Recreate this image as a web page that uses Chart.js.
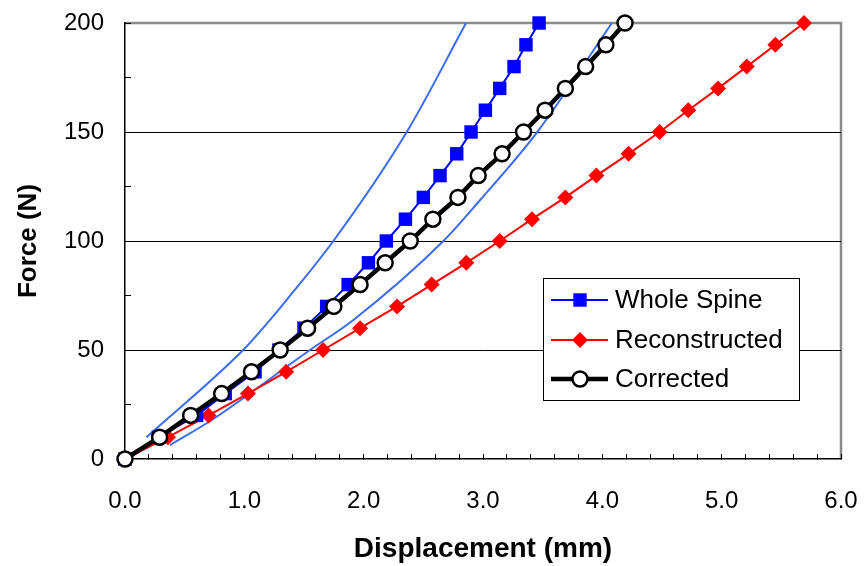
<!DOCTYPE html>
<html>
<head>
<meta charset="utf-8">
<script src="https://cdn.jsdelivr.net/npm/chart.js@4"></script>
<style>
  html, body { margin: 0; padding: 0; background: #fff; }
  #wrap { width: 864px; height: 566px; }
</style>
</head>
<body>
<div id="wrap"><canvas id="forceChart" width="864" height="566"></canvas></div>
<script>
// force levels (N) shared by the three measured series
const forceN = [0, 10, 20, 30, 40, 50, 60, 70, 80, 90, 100, 110, 120, 130, 140, 150, 160, 170, 180, 190, 200];

// displacement (mm)
const wholeSpineMm = [0, 0.28, 0.60, 0.84, 1.09, 1.29, 1.50, 1.69, 1.87, 2.04, 2.19, 2.35, 2.50, 2.64, 2.78, 2.90, 3.02, 3.14, 3.26, 3.36, 3.47];
const reconstructedMm = [0, 0.36, 0.70, 1.03, 1.35, 1.66, 1.97, 2.28, 2.57, 2.86, 3.14, 3.41, 3.69, 3.95, 4.22, 4.48, 4.72, 4.97, 5.21, 5.45, 5.69];
const correctedMm = [0, 0.29, 0.55, 0.81, 1.06, 1.30, 1.53, 1.75, 1.97, 2.18, 2.39, 2.58, 2.79, 2.96, 3.16, 3.34, 3.52, 3.69, 3.86, 4.03, 4.19];

// the two thin bounding curves (no markers)
const upperCurveMm = [0.18, 0.99, 1.215, 1.355, 1.746, 2.361, 2.858];
const upperCurveN = [10, 50, 63.8, 73, 100, 150, 200];
const lowerCurveMm = [0.377, 0.727, 1.55, 1.914, 2.668, 2.976, 3.451, 4.08];
const lowerCurveN = [6.4, 17.9, 50, 63.8, 100, 118.8, 149.7, 200];

const xTicksMajor = ['0.0', '1.0', '2.0', '3.0', '4.0', '5.0', '6.0'];
const yTicksMajor = ['0', '50', '100', '150', '200'];

const FONT = '"Liberation Sans", Arial, sans-serif';

function pairs(xs, ys) {
  return xs.map((x, i) => ({x: x, y: ys[i]}));
}

// keep the plot box where the original has it
function fixBox(s, size) {
  if (s.isHorizontal()) s.height = size; else s.width = size;
  s.paddingTop = 0;
  s.paddingBottom = 0;
  s.paddingLeft = 0;
  s.paddingRight = 0;
}

// grey frame on top and right of the plot area
const frame = {
  id: 'frame',
  beforeDraw(chart) {
    const {ctx, chartArea: a} = chart;
    ctx.save();
    ctx.strokeStyle = '#8a8a8a';
    ctx.lineWidth = 2.5;
    ctx.beginPath();
    ctx.moveTo(a.left, a.top);
    ctx.lineTo(a.right, a.top);
    ctx.lineTo(a.right, a.bottom);
    ctx.stroke();
    ctx.restore();
  }
};

function drawMarker(ctx, style, x, y, ds) {
  ctx.save();
  ctx.fillStyle = ds.pointBackgroundColor;
  ctx.strokeStyle = ds.pointBorderColor;
  ctx.lineWidth = ds.pointBorderWidth;
  ctx.beginPath();
  const r = ds.pointRadius;
  if (style === 'rect') {
    const s = Math.SQRT1_2 * r;
    ctx.rect(x - s, y - s, 2 * s, 2 * s);
  } else if (style === 'rectRot') {
    ctx.moveTo(x, y - r);
    ctx.lineTo(x + r, y);
    ctx.lineTo(x, y + r);
    ctx.lineTo(x - r, y);
    ctx.closePath();
  } else {
    ctx.arc(x, y, r, 0, Math.PI * 2);
  }
  ctx.fill();
  if (ds.pointBorderWidth > 0) ctx.stroke();
  ctx.restore();
}

// legend box inside the plot, like the original
const insideLegend = {
  id: 'insideLegend',
  afterDraw(chart) {
    const {ctx, chartArea: a} = chart;
    const left = a.left + 418, top = a.top + 255, w = 256, h = 122;
    ctx.save();
    ctx.fillStyle = '#fff';
    ctx.fillRect(left, top, w, h);
    ctx.strokeStyle = '#000';
    ctx.lineWidth = 1;
    ctx.strokeRect(left + 0.5, top + 0.5, w, h);
    const rows = [22, 62, 101];
    chart.data.datasets.slice(0, 3).forEach((ds, i) => {
      const y = top + rows[i];
      ctx.strokeStyle = ds.borderColor;
      ctx.lineWidth = ds.borderWidth;
      ctx.beginPath();
      ctx.moveTo(left + 8, y);
      ctx.lineTo(left + 65, y);
      ctx.stroke();
      drawMarker(ctx, ds.pointStyle, left + 37, y, ds);
      ctx.fillStyle = '#000';
      ctx.font = '26px ' + FONT;
      ctx.textBaseline = 'middle';
      ctx.textAlign = 'left';
      ctx.fillText(ds.label, left + 72, y + 1);
    });
    ctx.restore();
  }
};

const data = {
  datasets: [
    {
      label: 'Whole Spine',
      data: pairs(wholeSpineMm, forceN),
      borderColor: '#0000ff',
      borderWidth: 2,
      pointStyle: 'rect',
      pointRadius: 9.5,
      pointBackgroundColor: '#0000ff',
      pointBorderColor: '#0000ff',
      pointBorderWidth: 0,
      order: 1
    },
    {
      label: 'Reconstructed',
      data: pairs(reconstructedMm, forceN),
      borderColor: '#ff0000',
      borderWidth: 2,
      pointStyle: 'rectRot',
      pointRadius: 8,
      pointBackgroundColor: '#ff0000',
      pointBorderColor: '#ff0000',
      pointBorderWidth: 0,
      order: 2
    },
    {
      label: 'Corrected',
      data: pairs(correctedMm, forceN),
      borderColor: '#000000',
      borderWidth: 4.5,
      pointStyle: 'circle',
      pointRadius: 7.5,
      pointBackgroundColor: '#ffffff',
      pointBorderColor: '#000000',
      pointBorderWidth: 2.5,
      order: 0
    },
    {
      label: 'upper',
      data: pairs(upperCurveMm, upperCurveN),
      borderColor: '#3a6cf4',
      borderWidth: 2,
      pointRadius: 0,
      cubicInterpolationMode: 'monotone',
      order: 3
    },
    {
      label: 'lower',
      data: pairs(lowerCurveMm, lowerCurveN),
      borderColor: '#3a6cf4',
      borderWidth: 2,
      pointRadius: 0,
      cubicInterpolationMode: 'monotone',
      order: 4
    }
  ]
};

const config = {
  type: 'line',
  data: data,
  options: {
    responsive: false,
    animation: false,
    devicePixelRatio: 1,
    clip: false,
    layout: { padding: { top: 23, right: 23, left: 0, bottom: 0 } },
    plugins: {
      legend: { display: false },
      tooltip: { enabled: false }
    },
    scales: {
      x: {
        type: 'linear',
        min: 0,
        max: 6,
        afterFit: s => fixBox(s, 107),
        ticks: {
          stepSize: 0.2,
          autoSkip: false,
          maxRotation: 0,
          padding: 33,
          color: '#000',
          font: { family: FONT, size: 24 },
          callback: v => {
            const k = Math.round(v);
            return Math.abs(v - k) < 1e-6 ? xTicksMajor[k] : '';
          }
        },
        grid: {
          drawOnChartArea: false,
          tickLength: -5,
          tickColor: '#000'
        },
        border: { color: '#000', width: 1.5 },
        title: {
          display: true,
          text: 'Displacement (mm)',
          color: '#000',
          font: { family: FONT, size: 28, weight: 'bold' },
          padding: { top: 0, bottom: 0 }
        }
      },
      y: {
        min: 0,
        max: 200,
        afterFit: s => fixBox(s, 125),
        ticks: {
          stepSize: 25,
          padding: 27,
          color: '#000',
          font: { family: FONT, size: 24 },
          callback: v => (v % 50 === 0 ? yTicksMajor[v / 50] : '')
        },
        grid: {
          tickLength: -6,
          tickColor: '#000',
          color: c => (c.tick && c.tick.value % 50 === 0 && c.tick.value > 0 && c.tick.value < 200) ? '#000' : 'rgba(0,0,0,0)'
        },
        border: { color: '#000', width: 1.5 },
        title: {
          display: true,
          text: 'Force (N)',
          color: '#000',
          font: { family: FONT, size: 26, weight: 'bold' },
          padding: { top: 13, bottom: 0 }
        }
      }
    }
  },
  plugins: [frame, insideLegend]
};

const forceChart = new Chart(document.getElementById('forceChart'), config);
</script>
</body>
</html>
